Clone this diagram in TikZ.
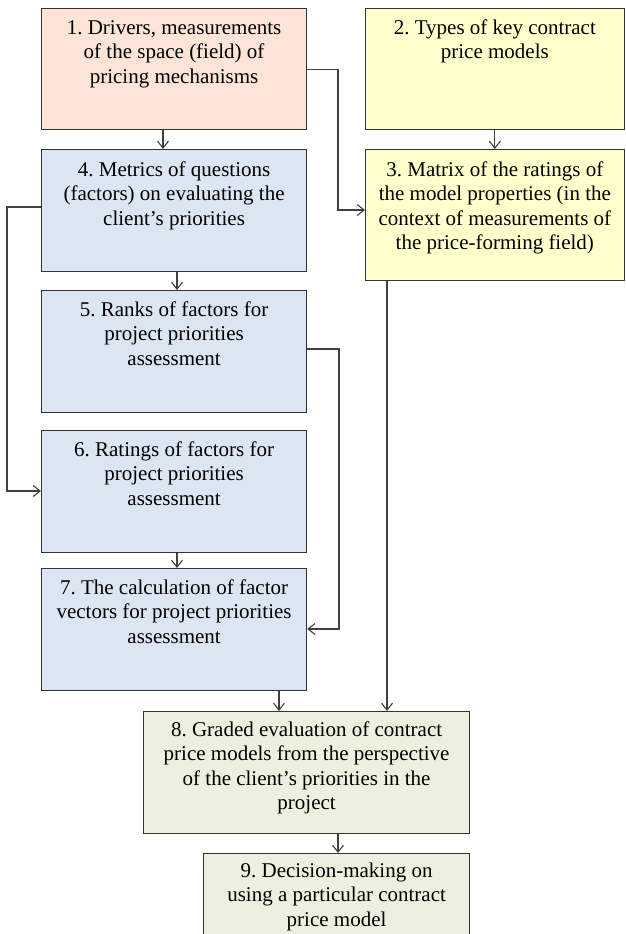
\documentclass[tikz,border=0pt]{standalone}
\usepackage{fontspec}
\setmainfont{Liberation Serif}
\newfontfamily\boxfont{Liberation Serif}
\usetikzlibrary{arrows.meta,calc}
\definecolor{peach}{HTML}{FCE4D6}
\definecolor{yel}{HTML}{FFFFCC}
\definecolor{blu}{HTML}{DCE6F2}
\definecolor{grn}{HTML}{EBF1DE}
\definecolor{edge}{HTML}{333333}
\definecolor{wire}{HTML}{404040}
\frenchspacing
\begin{document}
\begin{tikzpicture}[x=1pt,y=-1pt,
  box/.style={draw=edge, line width=1.2pt, anchor=north west, inner sep=0pt},
  txt/.style={anchor=north, inner sep=0pt, align=center, font=\boxfont\frenchspacing\fontsize{21}{24.5}\selectfont},
  arr/.style={draw=wire, line width=1.1pt, -{Straight Barb[length=7pt,width=11pt]}}]
\useasboundingbox (0,0) rectangle (625,934);
\clip (0,0) rectangle (625,934);
% boxes
\node[box, fill=peach, minimum width=265pt, minimum height=121pt] (b1) at (41,8) {};
\node[box, fill=yel, minimum width=258.5pt, minimum height=121pt] (b2) at (365,8) {};
\node[box, fill=yel, minimum width=258.5pt, minimum height=131pt] (b3) at (365,149) {};
\node[box, fill=blu, minimum width=265pt, minimum height=122pt] (b4) at (41,149) {};
\node[box, fill=blu, minimum width=265pt, minimum height=122pt] (b5) at (41,290) {};
\node[box, fill=blu, minimum width=265pt, minimum height=122pt] (b6) at (41,430) {};
\node[box, fill=blu, minimum width=265pt, minimum height=122pt] (b7) at (41,568) {};
\node[box, fill=grn, minimum width=326pt, minimum height=122pt] (b8) at (143,711) {};
\node[box, fill=grn, minimum width=266pt, minimum height=120pt] (b9) at (203,853) {};
% texts
\node[txt] (t1) at ($(b1.north)+(0,10)$) {\rule{0pt}{16pt}1. Drivers, measurements\\of the space (field) of\\pricing mechanisms};
\node[txt] (t2) at ($(b2.north)+(0,10)$) {\rule{0pt}{16pt}2. Types of key contract\\price models};
\node[txt] (t3) at ($(b3.north)+(0,11)$) {\rule{0pt}{16pt}3. Matrix of the ratings of\\the model properties (in the\\context of measurements of\\the price-forming field)};
\node[txt] (t4) at ($(b4.north)+(0,11)$) {\rule{0pt}{16pt}4. Metrics of questions\\(factors) on evaluating the\\client’s priorities};
\node[txt] (t5) at ($(b5.north)+(0,10)$) {\rule{0pt}{16pt}5. Ranks of factors for\\project priorities\\assessment};
\node[txt] (t6) at ($(b6.north)+(0,10)$) {\rule{0pt}{16pt}6. Ratings of factors for\\project priorities\\assessment};
\node[txt] (t7) at ($(b7.north)+(0,10)$) {\rule{0pt}{16pt}7. The calculation of factor\\vectors for project priorities\\assessment};
\node[txt] (t8) at ($(b8.north)+(0,9)$) {\rule{0pt}{16pt}8. Graded evaluation of contract\\price models from the perspective\\of the client’s priorities in the\\project};
\node[txt] (t9) at ($(b9.north)+(0,8)$) {\rule{0pt}{16pt}9. Decision-making on\\using a particular contract\\price model};
% connector helpers
\coordinate (c163) at (163,0);
\coordinate (c177) at (177,0);
\coordinate (c279) at (279,0);
\coordinate (c338) at (338,0);
\coordinate (c387) at (387,0);
\coordinate (k1) at (338,210);
\coordinate (k2) at (7,207);
\coordinate (k3) at (7,491);
\coordinate (k4) at (339,349);
\coordinate (k5) at (339,629);
% connectors
\draw[arr] (b1.south -| c163) -- (b4.north -| c163);
\draw[arr] (b2.south) -- (b3.north);
\draw[arr] (b1.east) -| (k1) -- (k1 -| b3.west);
\draw[arr] (b4.south -| c177) -- (b5.north -| c177);
\draw[arr] (k2 -| b4.west) -- (k2) -- (k3) -- (k3 -| b6.west);
\draw[arr] (b6.south -| c177) -- (b7.north -| c177);
\draw[arr] (k4 -| b5.east) -- (k4) -- (k5) -- (k5 -| b7.east);
\draw[arr] (b3.south -| c387) -- (b8.north -| c387);
\draw[arr] (b7.south -| c279) -- (b8.north -| c279);
\draw[arr] (b8.south -| c338) -- (b9.north -| c338);
\end{tikzpicture}
\end{document}
